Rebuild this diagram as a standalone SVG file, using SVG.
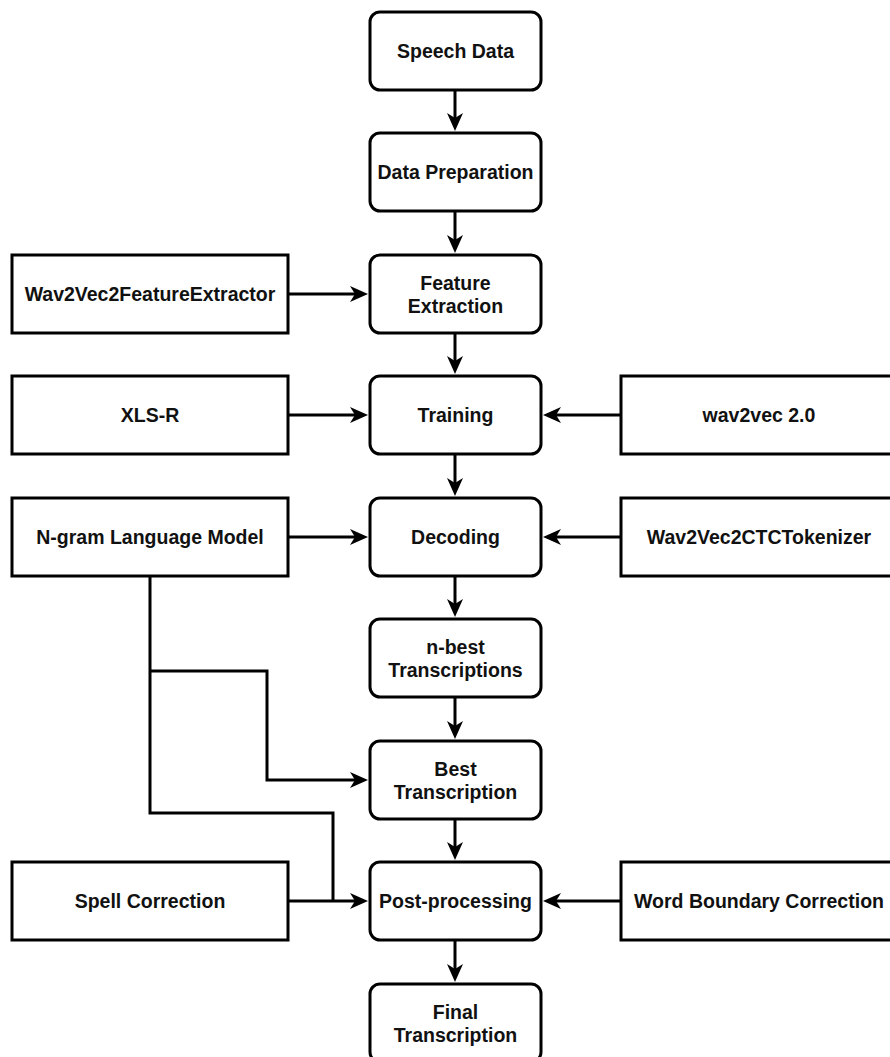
<svg xmlns="http://www.w3.org/2000/svg" width="890" height="1057" viewBox="0 0 890 1057">
  <style>
    .box { fill: #ffffff; stroke: #000000; stroke-width: 3; }
    .lbl { font-family: "Liberation Sans", Arial, sans-serif; font-weight: bold; font-size: 19.5px; fill: #111111; text-anchor: middle; dominant-baseline: central; }
    .edge { fill: none; stroke: #000000; stroke-width: 3; marker-end: url(#arrow); }
    .wire { fill: none; stroke: #000000; stroke-width: 3; }
  </style>
  <defs>
    <marker id="arrow" markerUnits="userSpaceOnUse" markerWidth="20" markerHeight="18" viewBox="0 0 20 18" refX="9" refY="9" orient="auto">
      <path d="M1,1 L19,9 L1,17 L6,9 Z" fill="#000000"/>
    </marker>
  </defs>
  <rect width="890" height="1057" fill="#ffffff"/>

  <!-- main pipeline -->
  <g id="speech-data">
    <rect class="box" x="370" y="12" width="171" height="78" rx="10"/>
    <text class="lbl" x="455.5" y="51">Speech Data</text>
  </g>
  <g id="data-preparation">
    <rect class="box" x="370" y="133" width="171" height="78" rx="10"/>
    <text class="lbl" x="455.5" y="172">Data Preparation</text>
  </g>
  <g id="feature-extraction">
    <rect class="box" x="370" y="255" width="171" height="78" rx="10"/>
    <text class="lbl" x="455.5" y="282.5">Feature</text>
    <text class="lbl" x="455.5" y="306">Extraction</text>
  </g>
  <g id="training">
    <rect class="box" x="370" y="376" width="171" height="78" rx="10"/>
    <text class="lbl" x="455.5" y="415">Training</text>
  </g>
  <g id="decoding">
    <rect class="box" x="370" y="498" width="171" height="78" rx="10"/>
    <text class="lbl" x="455.5" y="537">Decoding</text>
  </g>
  <g id="n-best">
    <rect class="box" x="370" y="619" width="171" height="78" rx="10"/>
    <text class="lbl" x="455.5" y="646.5">n-best</text>
    <text class="lbl" x="455.5" y="670">Transcriptions</text>
  </g>
  <g id="best-transcription">
    <rect class="box" x="370" y="741" width="171" height="78" rx="10"/>
    <text class="lbl" x="455.5" y="768.5">Best</text>
    <text class="lbl" x="455.5" y="792">Transcription</text>
  </g>
  <g id="post-processing">
    <rect class="box" x="370" y="862" width="171" height="78" rx="10"/>
    <text class="lbl" x="455.5" y="901">Post-processing</text>
  </g>
  <g id="final-transcription">
    <rect class="box" x="370" y="984" width="171" height="78" rx="10"/>
    <text class="lbl" x="455.5" y="1011.5">Final</text>
    <text class="lbl" x="455.5" y="1035">Transcription</text>
  </g>

  <!-- inputs on the left -->
  <g id="feature-extractor">
    <rect class="box" x="12" y="255" width="276" height="78"/>
    <text class="lbl" x="150" y="294">Wav2Vec2FeatureExtractor</text>
  </g>
  <g id="xls-r">
    <rect class="box" x="12" y="376" width="276" height="78"/>
    <text class="lbl" x="150" y="415">XLS-R</text>
  </g>
  <g id="ngram-lm">
    <rect class="box" x="12" y="498" width="276" height="78"/>
    <text class="lbl" x="150" y="537">N-gram Language Model</text>
  </g>
  <g id="spell-correction">
    <rect class="box" x="12" y="862" width="276" height="78"/>
    <text class="lbl" x="150" y="901">Spell Correction</text>
  </g>

  <!-- inputs on the right -->
  <g id="wav2vec2">
    <rect class="box" x="621" y="376" width="276" height="78"/>
    <text class="lbl" x="759" y="415">wav2vec 2.0</text>
  </g>
  <g id="ctc-tokenizer">
    <rect class="box" x="621" y="498" width="276" height="78"/>
    <text class="lbl" x="759" y="537">Wav2Vec2CTCTokenizer</text>
  </g>
  <g id="word-boundary">
    <rect class="box" x="621" y="862" width="276" height="78"/>
    <text class="lbl" x="759" y="901">Word Boundary Correction</text>
  </g>

  <g id="connectors">
    <!-- vertical flow -->
    <path class="edge" d="M455,90 L455,121"/>
    <path class="edge" d="M455,211 L455,243"/>
    <path class="edge" d="M455,333 L455,364"/>
    <path class="edge" d="M455,454 L455,486"/>
    <path class="edge" d="M455,576 L455,607"/>
    <path class="edge" d="M455,697 L455,729"/>
    <path class="edge" d="M455,819 L455,850"/>
    <path class="edge" d="M455,940 L455,972"/>
    <!-- side inputs -->
    <path class="edge" d="M288,294 L358,294"/>
    <path class="edge" d="M288,415 L358,415"/>
    <path class="edge" d="M621,415 L553,415"/>
    <path class="edge" d="M288,537 L358,537"/>
    <path class="edge" d="M621,537 L553,537"/>
    <path class="edge" d="M288,901 L358,901"/>
    <path class="edge" d="M621,901 L553,901"/>
    <!-- language model feeds rescoring and post-processing -->
    <path class="wire" d="M150,576 L150,813 L333,813 L333,901"/>
    <path class="edge" d="M150,671 L267,671 L267,780 L358,780"/>
  </g>
</svg>
